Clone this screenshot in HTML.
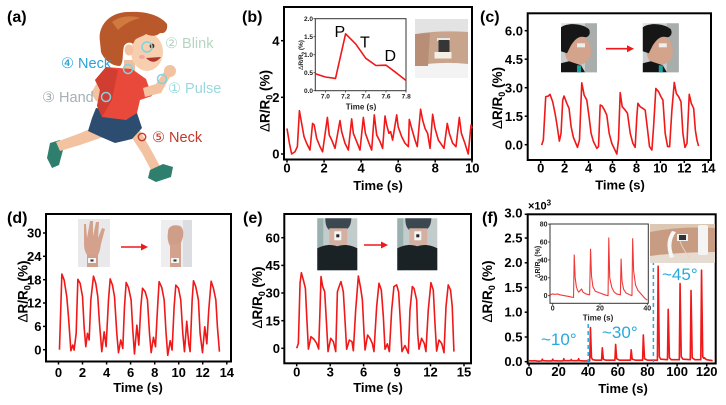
<!DOCTYPE html>
<html><head><meta charset="utf-8">
<style>
html,body{margin:0;padding:0;background:#fff;}
svg{display:block;font-family:"Liberation Sans","DejaVu Sans",sans-serif;}
.t{font-weight:bold;font-size:13px;fill:#000;}
.pl{font-weight:bold;font-size:16px;fill:#000;}
.yl{font-weight:bold;font-size:13.5px;fill:#000;}
.fr{fill:none;stroke:#000;stroke-width:2;}
.tk{stroke:#000;stroke-width:1.5;}
.ln{fill:none;stroke:#f01818;stroke-width:1.6;vector-effect:non-scaling-stroke;stroke-linejoin:round;}
.ln2{fill:none;stroke:#f03a3a;stroke-width:1.1;vector-effect:non-scaling-stroke;stroke-linejoin:round;}
.it{font-weight:bold;font-size:6.5px;fill:#222;}
.it7{font-weight:bold;font-size:7px;fill:#222;}
.lab{font-size:14.5px;}
.blu{fill:#29a8dc;font-size:17px;}
</style></head><body>
<svg width="726" height="405" viewBox="0 0 726 405">
<defs>
<g id="face">
  <rect x="0" y="0" width="36" height="49" fill="#c9cccc"/>
  <rect x="24" y="0" width="12" height="49" fill="#a9adab"/>
  <rect x="0" y="0" width="8" height="14" fill="#e4e4e4"/>
  <path d="M4,30 C2,18 6,12 14,12 C24,12 30,18 30,28 C30,36 26,40 18,42 C10,42 5,38 4,30 Z" fill="#d3a38b"/>
  <path d="M0,4 C6,-1 22,0 28,6 C30,10 28,14 24,14 C18,12 14,16 10,22 L6,30 L0,28 Z" fill="#161616"/>
  <rect x="16" y="20" width="8" height="4" fill="#eee"/>
  <path d="M0,40 L8,38 L20,42 L24,49 L0,49 Z" fill="#141414"/>
  <rect x="16" y="42" width="4" height="7" fill="#17a3a0"/>
</g>
<g id="neck">
  <rect x="0" y="0" width="40" height="52" fill="#c3cccc"/>
  <rect x="0" y="0" width="6" height="52" fill="#9ab0ae"/>
  <path d="M8,0 L34,0 C34,8 30,14 20,14 C10,14 8,8 8,0 Z" fill="#3b4850"/>
  <rect x="12" y="10" width="18" height="20" fill="#d4b0a2"/>
  <rect x="17" y="13" width="7" height="9" fill="#f4f4f4"/>
  <rect x="19" y="16" width="3" height="3" fill="#222"/>
  <path d="M0,30 C8,26 14,26 20,28 C26,26 32,26 40,30 L40,52 L0,52 Z" fill="#1b2226"/>
</g>
</defs>

<!-- ===== Panel (a) ===== -->
<text class="pl" x="7" y="22">(a)</text>
<path d="M50,143 L60,140 L63,150 L59,165 L52,168 L47,158 Z" fill="#2f7f6e"/>
<path d="M102,124 L106,136 L80,145 L60,151 L56,142 L78,134 Z" fill="#f3c2a0"/>
<path d="M128,132 L138,127 L150,148 L161,168 L152,172 L142,153 Z" fill="#f3c2a0"/>
<path d="M150,170 L163,164 L173,167 L171,177 L156,182 L148,178 Z" fill="#2f7f6e"/>
<path d="M96,108 L137,113 L142,128 L132,139 L115,143 L101,137 L88,131 L92,118 Z" fill="#2c4d70"/>
<path d="M100,78 L108,82 L100,93 L110,96 L108,104 L96,101 L91,93 Z" fill="#f3c2a0"/>
<circle cx="107" cy="99" r="5" fill="#f3c2a0"/>
<rect x="124" y="60" width="11" height="11" fill="#f0bf9d"/>
<path d="M106,67 L132,69 L146,79 L152,96 L140,100 L137,113 L126,120 L102,117 L97,106 L100,90 L95,80 Z" fill="#e8493b"/>
<path d="M106,67 L118,70 L112,100 L102,117 L97,106 L100,90 L95,80 Z" fill="#d23d31"/>
<path d="M143,88 L156,84 L164,72 L171,75 L161,93 L145,97 Z" fill="#f3c2a0"/>
<circle cx="170" cy="71" r="6" fill="#f3c2a0"/>
<ellipse cx="147" cy="52" rx="16" ry="19" fill="#f7cfae"/>
<path d="M100,42 C97,24 112,11 130,12 C145,11 160,15 167,24 C168,30 165,34 160,33 C156,37 150,36 146,34 C142,37 138,37 135,40 L133,44 C131,42 126,42 124,46 C122,54 124,62 120,66 C112,66 104,60 101,52 Z" fill="#b9582a"/>
<path d="M112,22 C120,16 132,15 140,18 C132,20 124,24 118,30 Z" fill="#d17a40"/>
<ellipse cx="129" cy="50" rx="4.5" ry="5.5" fill="#f3c2a0"/>
<circle cx="152" cy="46" r="2.4" fill="#4a2c1e"/>
<path d="M146,58 Q154,66 161,57 Z" fill="#b0352a"/>
<ellipse cx="142" cy="57" rx="3" ry="2" fill="#f2a8a0"/>
<g fill="none" stroke="#7fd3e2" stroke-width="1.5">
<circle cx="147" cy="47" r="5"/><circle cx="128" cy="69" r="4.5"/><circle cx="162" cy="79" r="4.5"/><circle cx="106" cy="97" r="4.5"/>
</g>
<circle cx="142" cy="137" r="3.7" fill="none" stroke="#c0392b" stroke-width="1.4"/>
<text class="lab" x="165" y="48" fill="#b7d4c2">② Blink</text>
<text class="lab" x="61" y="68" fill="#2aa3d8">④ Neck</text>
<text class="lab" x="168" y="93" fill="#9ad8de">① Pulse</text>
<text class="lab" x="42" y="102" fill="#a5b0b4">③ Hand</text>
<text class="lab" x="152" y="142" fill="#c0392b">⑤ Neck</text>

<!-- ===== Panel (b) ===== -->
<text class="pl" x="242" y="22">(b)</text>
<rect class="fr" x="284" y="7" width="188" height="152.5"/>
<g class="tk">
<line x1="287" y1="159.5" x2="287" y2="162.5"/><line x1="324.1" y1="159.5" x2="324.1" y2="162.5"/><line x1="361.1" y1="159.5" x2="361.1" y2="162.5"/><line x1="398.2" y1="159.5" x2="398.2" y2="162.5"/><line x1="435.2" y1="159.5" x2="435.2" y2="162.5"/><line x1="472" y1="159.5" x2="472" y2="162.5"/>
<line x1="281" y1="154" x2="284" y2="154"/><line x1="281" y1="97.3" x2="284" y2="97.3"/><line x1="281" y1="40.7" x2="284" y2="40.7"/>
</g>
<g class="t" text-anchor="middle">
<text x="287" y="172.5">0</text><text x="324.1" y="172.5">2</text><text x="361.1" y="172.5">4</text><text x="398.2" y="172.5">6</text><text x="435.2" y="172.5">8</text><text x="472.3" y="172.5">10</text>
</g>
<g class="t" text-anchor="end">
<text x="279.5" y="158.7">0</text><text x="279.5" y="102">2</text><text x="279.5" y="45.4">4</text>
</g>
<text class="t" x="378" y="190" text-anchor="middle">Time (s)</text>
<text class="yl" transform="translate(269.5,101) rotate(-90)" text-anchor="middle"><tspan font-weight="normal">Δ</tspan>R/R<tspan font-size="9" dy="3">0</tspan><tspan dy="-3"> (%)</tspan></text>
<polyline class="ln" transform="matrix(18.53 0 0 -28.33 287 154)" points="0,0.9 0.13,0.38 0.25,0 0.43,0.08 0.56,0.26 0.67,1.53 0.79,1.08 0.92,0.61 1.06,0.38 1.24,0.14 1.38,1.08 1.47,1.02 1.6,0.55 1.78,0.26 1.92,0.08 2.18,1.29 2.28,0.67 2.41,0.5 2.59,0.2 2.72,0.67 2.86,1.18 2.95,0.79 3.13,0.38 3.31,0.14 3.49,1.24 3.58,0.73 3.76,0.44 3.94,0.14 4.12,1.29 4.23,0.73 4.39,0.44 4.57,0.14 4.71,1.38 4.84,0.67 5.02,0.44 5.16,0.2 5.29,1.34 5.38,1.02 5.5,0.73 5.59,0.79 5.7,0.49 5.92,1.38 6,0.96 6.19,0.61 6.37,0.38 6.55,0.26 6.6,1.22 6.73,0.9 6.91,0.49 7.03,0.26 7.21,1.58 7.32,1.2 7.45,0.9 7.59,0.73 7.72,0.2 7.86,1.4 7.99,0.9 8.17,0.49 8.35,0.32 8.47,0.2 8.65,1.08 8.76,0.73 8.94,0.38 9.12,0.26 9.3,1.29 9.41,0.73 9.6,0.38 9.78,0 9.93,1.02 10,0.9"/>
<!-- inset b -->
<rect x="315.3" y="18.7" width="90.7" height="72" fill="#fff" stroke="#333" stroke-width="1"/>
<g stroke="#333" stroke-width="0.8">
<line x1="325.4" y1="90.7" x2="325.4" y2="92.5"/><line x1="345.6" y1="90.7" x2="345.6" y2="92.5"/><line x1="365.8" y1="90.7" x2="365.8" y2="92.5"/><line x1="386" y1="90.7" x2="386" y2="92.5"/><line x1="406" y1="90.7" x2="406" y2="92.5"/>
<line x1="313.5" y1="90.7" x2="315.3" y2="90.7"/><line x1="313.5" y1="72.7" x2="315.3" y2="72.7"/><line x1="313.5" y1="54.7" x2="315.3" y2="54.7"/><line x1="313.5" y1="36.7" x2="315.3" y2="36.7"/><line x1="313.5" y1="18.7" x2="315.3" y2="18.7"/>
</g>
<g class="it" text-anchor="end">
<text x="313" y="93">0.0</text><text x="313" y="75">0.5</text><text x="313" y="57">1.0</text><text x="313" y="39">1.5</text><text x="313" y="21">2.0</text>
</g>
<g class="it" text-anchor="middle">
<text x="325.4" y="98.5">7.0</text><text x="345.6" y="98.5">7.2</text><text x="365.8" y="98.5">7.4</text><text x="386" y="98.5">7.6</text><text x="406.2" y="98.5">7.8</text>
</g>
<text x="361" y="109.5" text-anchor="middle" style="font-weight:bold;font-size:8px;fill:#222">Time (s)</text>
<text transform="translate(303,55) rotate(-90)" text-anchor="middle" style="font-weight:bold;font-size:6.5px;fill:#222"><tspan font-weight="normal">Δ</tspan>R/R<tspan font-size="4.5" dy="1.5">0</tspan><tspan dy="-1.5"> (%)</tspan></text>
<polyline class="ln" transform="matrix(101 0 0 -36 -381.6 90.7)" points="6.9,0.47 7,0.38 7.1,0.34 7.2,1.58 7.3,1.3 7.4,0.9 7.5,0.7 7.6,0.71 7.7,0.5 7.8,0.28"/>
<text x="334.5" y="37" style="font-size:16px;fill:#000">P</text>
<text x="360" y="47.5" style="font-size:16px;fill:#000">T</text>
<text x="384.5" y="61" style="font-size:16px;fill:#000">D</text>
<!-- photo b -->
<rect x="415" y="19" width="53" height="59" fill="#f3f3f3"/>
<rect x="415" y="19" width="53" height="14" fill="#e3e3e3"/>
<path d="M415,34 Q440,30 468,32 L468,64 Q440,61 415,66 Z" fill="#c9a48c"/>
<path d="M415,34 Q425,33 430,33 L428,66 Q420,66 415,66 Z" fill="#b88f76"/>
<rect x="437" y="38" width="13" height="3" fill="#e8e8e8"/>
<rect x="438.5" y="40" width="11" height="13" fill="#363636"/>
<rect x="434.5" y="52" width="17" height="6.5" fill="#f3efe4"/>

<!-- ===== Panel (c) ===== -->
<text class="pl" x="480" y="22">(c)</text>
<rect class="fr" x="527.7" y="13.3" width="183.3" height="146.7"/>
<g class="tk">
<line x1="540.7" y1="160" x2="540.7" y2="163"/><line x1="564.6" y1="160" x2="564.6" y2="163"/><line x1="588.6" y1="160" x2="588.6" y2="163"/><line x1="612.5" y1="160" x2="612.5" y2="163"/><line x1="636.5" y1="160" x2="636.5" y2="163"/><line x1="660.4" y1="160" x2="660.4" y2="163"/><line x1="684.3" y1="160" x2="684.3" y2="163"/><line x1="708.3" y1="160" x2="708.3" y2="163"/>
<line x1="524.7" y1="144.7" x2="527.7" y2="144.7"/><line x1="524.7" y1="116.2" x2="527.7" y2="116.2"/><line x1="524.7" y1="87.7" x2="527.7" y2="87.7"/><line x1="524.7" y1="59.2" x2="527.7" y2="59.2"/><line x1="524.7" y1="30.7" x2="527.7" y2="30.7"/>
</g>
<g class="t" text-anchor="middle">
<text x="540.7" y="172.7">0</text><text x="564.6" y="172.7">2</text><text x="588.6" y="172.7">4</text><text x="612.5" y="172.7">6</text><text x="636.5" y="172.7">8</text><text x="660.4" y="172.7">10</text><text x="684.3" y="172.7">12</text><text x="708.3" y="172.7">14</text>
</g>
<g class="t" text-anchor="end">
<text x="523" y="149.4">0.0</text><text x="523" y="120.9">1.5</text><text x="523" y="92.4">3.0</text><text x="523" y="63.9">4.5</text><text x="523" y="35.4">6.0</text>
</g>
<text class="t" x="620" y="189.5" text-anchor="middle">Time (s)</text>
<text class="yl" transform="translate(502,98) rotate(-90)" text-anchor="middle"><tspan font-weight="normal">Δ</tspan>R/R<tspan font-size="9" dy="3">0</tspan><tspan dy="-3"> (%)</tspan></text>
<polyline class="ln" transform="matrix(11.97 0 0 -19 540.7 144.7)" points="0.08,-0.02 0.22,0.25 0.42,2.53 0.64,2.56 0.78,2.65 1,2.26 1.2,1.65 1.34,1.12 1.56,0.19 1.7,0.6 1.84,2.35 1.95,2.56 2.18,2.18 2.37,1.91 2.54,0.95 2.73,0.39 3.07,-0.14 3.24,0.25 3.43,3.26 3.63,2.61 3.85,2.35 4.04,1.47 4.21,0.6 4.41,0.16 4.69,-0.19 4.83,-0.1 4.97,2.09 5.13,2.04 5.33,1.82 5.52,1.56 5.72,0.6 5.94,0.07 6.36,-0.49 6.5,0.25 6.64,2.74 6.81,2 7.06,1.82 7.25,1.65 7.48,0.6 7.7,0.07 7.89,-0.14 8.03,1.47 8.12,2.18 8.31,2 8.54,1.91 8.73,1.82 8.93,0.77 9.09,-0.1 9.29,-0.28 9.43,0.95 9.62,2.96 9.85,2.79 10.04,2.53 10.21,2.35 10.4,0.6 10.6,-0.1 10.77,-0.1 10.96,1.82 11.16,3.28 11.33,2.7 11.52,2.53 11.72,2.26 11.88,0.6 12.05,-0.14 12.22,0.07 12.41,2.65 12.58,2.18 12.78,1.91 12.92,0.77 13.05,0.25 13.19,-0.07"/>
<use href="#face" x="561" y="23.3"/>
<use href="#face" x="642.8" y="23.3"/>
<line x1="606" y1="48.7" x2="628" y2="48.7" stroke="#f01818" stroke-width="1.6"/>
<polygon points="634,48.7 627,45.2 627,52.2" fill="#f01818"/>

<!-- ===== Panel (d) ===== -->
<text class="pl" x="7" y="223">(d)</text>
<rect class="fr" x="46" y="214" width="185" height="147.5"/>
<g class="tk">
<line x1="58.5" y1="361.5" x2="58.5" y2="364.5"/><line x1="82.5" y1="361.5" x2="82.5" y2="364.5"/><line x1="106.6" y1="361.5" x2="106.6" y2="364.5"/><line x1="130.6" y1="361.5" x2="130.6" y2="364.5"/><line x1="154.7" y1="361.5" x2="154.7" y2="364.5"/><line x1="178.7" y1="361.5" x2="178.7" y2="364.5"/><line x1="202.7" y1="361.5" x2="202.7" y2="364.5"/><line x1="226.8" y1="361.5" x2="226.8" y2="364.5"/>
<line x1="43" y1="349.7" x2="46" y2="349.7"/><line x1="43" y1="326.4" x2="46" y2="326.4"/><line x1="43" y1="303" x2="46" y2="303"/><line x1="43" y1="279.7" x2="46" y2="279.7"/><line x1="43" y1="256.3" x2="46" y2="256.3"/><line x1="43" y1="233" x2="46" y2="233"/>
</g>
<g class="t" text-anchor="middle">
<text x="58.5" y="377">0</text><text x="82.5" y="377">2</text><text x="106.6" y="377">4</text><text x="130.6" y="377">6</text><text x="154.7" y="377">8</text><text x="178.7" y="377">10</text><text x="202.7" y="377">12</text><text x="226.8" y="377">14</text>
</g>
<g class="t" text-anchor="end">
<text x="41.5" y="354.4">0</text><text x="41.5" y="331.1">6</text><text x="41.5" y="307.7">12</text><text x="41.5" y="284.4">18</text><text x="41.5" y="261">24</text><text x="41.5" y="237.7">30</text>
</g>
<text class="t" x="138" y="392" text-anchor="middle">Time (s)</text>
<text class="yl" transform="translate(27.5,291.5) rotate(-90)" text-anchor="middle"><tspan font-weight="normal">Δ</tspan>R/R<tspan font-size="9" dy="3">0</tspan><tspan dy="-3"> (%)</tspan></text>
<polyline class="ln" transform="matrix(12.02 0 0 -3.89 58.5 349.7)" points="0.08,0 0.28,19.45 0.47,17.9 0.69,13.6 0.83,8.5 1.03,-0.26 1.19,1.2 1.3,-0.1 1.47,4.2 1.61,18.1 1.8,17.05 2,13.6 2.13,5.9 2.27,0.77 2.41,4.2 2.55,2.5 2.69,12.8 2.91,18.9 3.1,17.05 3.27,13.6 3.41,6.8 3.6,-0.5 3.8,4.6 3.96,0.77 4.16,12.8 4.3,18.2 4.49,16.6 4.66,13.6 4.85,4.2 4.99,-0.77 5.18,2.5 5.35,0.34 5.49,11.05 5.63,17.3 5.82,16 6.04,12.8 6.18,5.1 6.32,-1.1 6.52,6.3 6.68,1.2 6.85,11.05 6.99,15.8 7.21,14.9 7.4,12.8 7.57,4.2 7.71,-0.77 7.9,3.2 8.07,0.77 8.23,10.2 8.37,17.5 8.59,16 8.79,12.8 8.95,4.2 9.09,-1.46 9.29,2.3 9.45,-0.1 9.62,11.05 9.76,16.6 9.98,15.8 10.17,12.8 10.34,4.2 10.48,-0.5 10.67,7.3 10.84,1.5 10.95,-0.5 11.12,12.8 11.23,17.7 11.42,16.2 11.64,12.8 11.78,4.2 11.98,-0.77 12.17,5.9 12.34,1.5 12.5,10.2 12.7,17.6 12.89,15.8 13.09,12.8 13.22,5.9 13.39,-0.5"/>
<!-- hand photos -->
<rect x="78" y="219" width="32" height="48" fill="#e9e9ec"/>
<path d="M84,224 L86,224 L87,238 L90,221 L93,221 L93,236 L96,222 L99,222 L98,238 L102,228 L105,229 L101,244 C100,252 98,256 96,258 L90,258 C86,255 84,250 84,244 Z" fill="#d4a28c"/>
<rect x="87" y="255" width="11" height="12" fill="#d0a08a"/>
<rect x="88" y="258" width="8" height="5" fill="#f5f5f5"/>
<rect x="90.5" y="259.5" width="3" height="2" fill="#333"/>
<rect x="161" y="220" width="31" height="47" fill="#eeeef0"/>
<rect x="183" y="220" width="9" height="47" fill="#dcdde0"/>
<path d="M168,232 C168,226 174,224 180,226 C184,228 184,236 182,240 L180,246 L170,246 C168,242 167,238 168,232 Z" fill="#cf9e88"/>
<rect x="170" y="244" width="11" height="23" fill="#d2a28c"/>
<rect x="171" y="258" width="8" height="5" fill="#f5f5f5"/>
<rect x="173.5" y="259.5" width="3" height="2" fill="#333"/>
<line x1="121" y1="247" x2="142" y2="247" stroke="#f01818" stroke-width="1.6"/>
<polygon points="148,247 141,243.5 141,250.5" fill="#f01818"/>

<!-- ===== Panel (e) ===== -->
<text class="pl" x="243" y="223">(e)</text>
<rect class="fr" x="284.3" y="214" width="186.7" height="149.3"/>
<g class="tk">
<line x1="296.7" y1="363.3" x2="296.7" y2="366.3"/><line x1="330.2" y1="363.3" x2="330.2" y2="366.3"/><line x1="363.6" y1="363.3" x2="363.6" y2="366.3"/><line x1="397.1" y1="363.3" x2="397.1" y2="366.3"/><line x1="430.5" y1="363.3" x2="430.5" y2="366.3"/><line x1="464" y1="363.3" x2="464" y2="366.3"/>
<line x1="281.3" y1="348.3" x2="284.3" y2="348.3"/><line x1="281.3" y1="320.7" x2="284.3" y2="320.7"/><line x1="281.3" y1="293" x2="284.3" y2="293"/><line x1="281.3" y1="265.4" x2="284.3" y2="265.4"/><line x1="281.3" y1="237.7" x2="284.3" y2="237.7"/>
</g>
<g class="t" text-anchor="middle">
<text x="296.7" y="376.7">0</text><text x="330.2" y="376.7">3</text><text x="363.6" y="376.7">6</text><text x="397.1" y="376.7">9</text><text x="430.5" y="376.7">12</text><text x="464" y="376.7">15</text>
</g>
<g class="t" text-anchor="end">
<text x="280" y="353">0</text><text x="280" y="325.4">15</text><text x="280" y="297.7">30</text><text x="280" y="270.1">45</text><text x="280" y="242.4">60</text>
</g>
<text class="t" x="378" y="392" text-anchor="middle">Time (s)</text>
<text class="yl" transform="translate(262,297.5) rotate(-90)" text-anchor="middle"><tspan font-weight="normal">Δ</tspan>R/R<tspan font-size="9" dy="3">0</tspan><tspan dy="-3"> (%)</tspan></text>
<polyline class="ln" transform="matrix(11.15 0 0 -1.843 296.7 348.3)" points="0,0 0.15,2.7 0.3,35.3 0.42,41 0.6,37 0.78,32.5 0.9,17.2 1.05,-0.4 1.28,6.3 1.55,4.9 1.79,2.7 1.97,-0.4 2.09,20.8 2.18,38.9 2.33,33.5 2.51,30.7 2.69,11.75 2.81,-1.8 3.05,5.4 3.29,3.6 3.5,-1.8 3.65,30.7 3.82,33.8 3.97,36.2 4.18,30.7 4.33,15.4 4.48,-0.5 4.72,4.5 4.96,3.6 5.08,-1.3 5.29,20.8 5.53,39.2 5.74,32.5 5.89,26.2 6.04,8.1 6.13,-0.9 6.36,7.2 6.57,5.4 6.78,2.7 6.93,-1.8 7.17,22.6 7.38,35.3 7.59,31.6 7.77,17.2 7.92,-0.5 8.13,2.4 8.31,-1.8 8.52,20.8 8.72,33.5 8.96,34.4 9.14,30.7 9.29,15.4 9.44,-1.8 9.71,1.5 10.01,-2.7 10.16,20.8 10.37,33.5 10.52,32.5 10.76,26.2 10.85,8.1 10.97,-0.5 11.2,5.4 11.44,2.7 11.59,-1.8 11.8,20.8 12.04,35.6 12.25,31.6 12.4,13.6 12.55,-1.5 12.76,4.5 13,2.7 13.21,-2.4 13.39,22.6 13.59,34.4 13.8,31.6 13.95,22.6 14.1,-1.8"/>
<use href="#neck" x="317.3" y="218.3"/>
<use href="#neck" x="397.3" y="218.3"/>
<line x1="364" y1="245" x2="382" y2="245" stroke="#f01818" stroke-width="1.6"/>
<polygon points="388,245 381,241.5 381,248.5" fill="#f01818"/>

<!-- ===== Panel (f) ===== -->
<text class="pl" x="482" y="223">(f)</text>
<text x="528" y="209.5" style="font-weight:bold;font-size:11px">×10<tspan font-size="8" dy="-4">3</tspan></text>
<rect class="fr" x="527.7" y="214.3" width="188" height="149.2"/>
<g class="tk">
<line x1="529" y1="363.5" x2="529" y2="366.5"/><line x1="558.6" y1="363.5" x2="558.6" y2="366.5"/><line x1="588.2" y1="363.5" x2="588.2" y2="366.5"/><line x1="617.9" y1="363.5" x2="617.9" y2="366.5"/><line x1="647.5" y1="363.5" x2="647.5" y2="366.5"/><line x1="677.1" y1="363.5" x2="677.1" y2="366.5"/><line x1="706.7" y1="363.5" x2="706.7" y2="366.5"/>
<line x1="524.7" y1="361.7" x2="527.7" y2="361.7"/><line x1="524.7" y1="337" x2="527.7" y2="337"/><line x1="524.7" y1="312.2" x2="527.7" y2="312.2"/><line x1="524.7" y1="287.5" x2="527.7" y2="287.5"/><line x1="524.7" y1="262.8" x2="527.7" y2="262.8"/><line x1="524.7" y1="238" x2="527.7" y2="238"/><line x1="524.7" y1="214.3" x2="527.7" y2="214.3"/>
</g>
<g class="t" text-anchor="middle">
<text x="529" y="376">0</text><text x="558.6" y="376">20</text><text x="588.2" y="376">40</text><text x="617.9" y="376">60</text><text x="647.5" y="376">80</text><text x="677.1" y="376">100</text><text x="706.7" y="376">120</text>
</g>
<g class="t" text-anchor="end">
<text x="522.5" y="366">0.0</text><text x="522.5" y="341.3">0.5</text><text x="522.5" y="316.5">1.0</text><text x="522.5" y="291.8">1.5</text><text x="522.5" y="267.1">2.0</text><text x="522.5" y="242.3">2.5</text><text x="522.5" y="217.6">3.0</text>
</g>
<text class="t" x="623" y="393" text-anchor="middle">Time (s)</text>
<text class="yl" transform="translate(492,291.5) rotate(-90)" text-anchor="middle"><tspan font-weight="normal">Δ</tspan>R/R<tspan font-size="9" dy="3">0</tspan><tspan dy="-3"> (%)</tspan></text>
<polyline class="ln" transform="matrix(1.481 0 0 -49.47 529 361.7)" points="0,0.02 2,0.015 4,0.02 6,0.01 8.5,0.015 9,0.05 9.5,0.02 12,0.015 15.5,0.015 16,0.05 16.5,0.02 20,0.015 23,0.015 23.5,0.06 24,0.02 28,0.02 28.5,0.045 29,0.02 33,0.02 33.5,0.06 34,0.02 37,0.015 41,0.015 41.5,0.69 42.2,0.08 43,0.04 45,0.03 49,0.03 49.5,0.28 50.2,0.05 52,0.03 58,0.03 58.5,0.35 59.2,0.06 61,0.03 68.5,0.03 69,0.24 69.7,0.05 72,0.03 76.7,0.03 77.2,0.54 78,0.06 80,0.03 86.7,0.03 87.2,1.93 88,0.1 89,0.05 93.5,0.04 94,1.06 94.8,0.08 96,0.04 101.5,0.04 102,1.58 102.8,0.1 104,0.05 108.9,0.04 109.4,1.44 110.2,0.08 112,0.04 116,0.04 116.5,1.85 117.3,0.1 118,0.07 118.5,0.08 119,0.06 120,0.04 122,0.03 124,0.02"/>
<g stroke="#29a8dc" stroke-width="1.5" stroke-dasharray="4,3">
<line x1="588.2" y1="363" x2="588.2" y2="323"/>
<line x1="653.4" y1="363" x2="653.4" y2="262"/>
</g>
<text class="blu" x="541" y="345">~10°</text>
<text class="blu" x="602" y="338">~30°</text>
<text class="blu" x="662" y="280">~45°</text>
<!-- inset f -->
<rect x="550" y="224" width="98.3" height="79.3" fill="#fff" stroke="#333" stroke-width="1"/>
<g stroke="#333" stroke-width="0.8">
<line x1="552.7" y1="303.3" x2="552.7" y2="305.3"/><line x1="600" y1="303.3" x2="600" y2="305.3"/><line x1="647.3" y1="303.3" x2="647.3" y2="305.3"/>
<line x1="548" y1="295.7" x2="550" y2="295.7"/><line x1="548" y1="277.8" x2="550" y2="277.8"/><line x1="548" y1="259.9" x2="550" y2="259.9"/><line x1="548" y1="242" x2="550" y2="242"/><line x1="548" y1="224.1" x2="550" y2="224.1"/>
</g>
<g class="it7" text-anchor="end">
<text x="547.5" y="298.2">0</text><text x="547.5" y="280.3">20</text><text x="547.5" y="262.4">40</text><text x="547.5" y="244.5">60</text><text x="547.5" y="226.6">80</text>
</g>
<g class="it7" text-anchor="middle">
<text x="552.7" y="310.5">0</text><text x="600" y="310.5">20</text><text x="647.3" y="310.5">40</text>
</g>
<text x="598" y="320.5" text-anchor="middle" style="font-weight:bold;font-size:8px;fill:#222">Time (s)</text>
<text transform="translate(540,262) rotate(-90)" text-anchor="middle" style="font-weight:bold;font-size:7px;fill:#222"><tspan font-weight="normal">Δ</tspan>R/R<tspan font-size="5" dy="1.5">0</tspan><tspan dy="-1.5"> (%)</tspan></text>
<polyline class="ln2" transform="matrix(2.366 0 0 -0.895 552.7 295.7)" points="-1,1 0,2 1,1.5 2,2 3,1 5,0 7,-1 8.8,-2 9.1,45.5 9.5,20 10,10 10.5,6 11,4 12.2,7.5 12.8,4 14,2 15.6,1 16,52 16.4,22 17,10 18,5 20,3 22,1 23.4,0 23.7,64.5 24.1,20 25,9 26,4 27,2 28.6,1 28.9,41 29.3,16 30,7 31,3 33.5,0 33.8,63.7 34.2,28 35,12 36,6 38,0 39,-3 40,-5"/>
<!-- photo f -->
<rect x="650" y="224" width="65" height="39" fill="#dcc7b2"/>
<path d="M650,232 Q680,226 715,228 L715,255 Q690,258 650,262 Z" fill="#c89c82"/>
<path d="M650,256 Q680,252 715,252 L715,263 L650,263 Z" fill="#e6dbd0"/>
<path d="M672,231 Q664,242 670,258 L674,257 Q668,243 676,232 Z" fill="#f7f7f7"/>
<rect x="698" y="225" width="10" height="30" rx="2" fill="#f4f4f4"/>
<rect x="677" y="234" width="11" height="7" fill="#f0f0f0"/>
<rect x="679" y="235" width="7" height="5" fill="#333"/>
<path d="M680,241 Q683,250 690,258" stroke="#e8d0c0" stroke-width="1" fill="none"/>
</svg>
</body></html>
